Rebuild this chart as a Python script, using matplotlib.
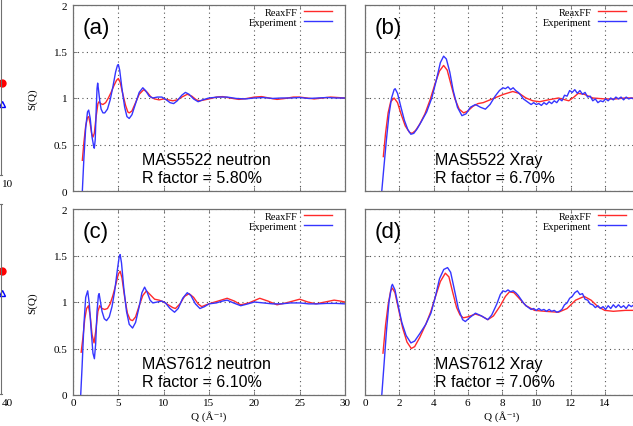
import numpy as np
import matplotlib
matplotlib.use("Agg")
import matplotlib.pyplot as plt

plt.rcParams["font.family"] = ["Liberation Serif", "DejaVu Serif"]

# ---- data ----
# (a) MAS5522 neutron
qa_exp = [1.03, 1.2, 1.4, 1.6, 1.73, 1.9, 2.1, 2.3, 2.35, 2.45, 2.55, 2.65, 2.72, 2.8, 2.95, 3.1, 3.3, 3.5,
          3.8, 4.1, 4.4, 4.7, 4.9, 5.0, 5.15, 5.4, 5.7, 5.95, 6.2, 6.5, 6.9, 7.3, 7.7, 8.0, 8.4, 8.8,
          9.3, 9.8, 10.3, 10.7, 11.1, 11.5, 12.0, 12.4, 12.8, 13.3, 13.8, 14.3, 15.0, 16.0, 17.0, 18.0,
          19.0, 20.0, 21.0, 22.0, 23.0, 24.0, 25.0, 26.0, 27.0, 28.0, 29.0, 30.0]
sa_exp = [0.0, 0.35, 0.68, 0.85, 0.87, 0.78, 0.58, 0.47, 0.46, 0.55, 0.85, 1.10, 1.16, 1.10, 0.97, 0.88, 0.84,
          0.84, 0.88, 0.98, 1.12, 1.28, 1.35, 1.36, 1.30, 1.10, 0.90, 0.80, 0.78, 0.82, 0.94, 1.06, 1.11,
          1.08, 1.02, 1.00, 1.01, 1.01, 0.98, 0.95, 0.94, 0.97, 1.03, 1.06, 1.04, 0.99, 0.96, 0.98, 1.00,
          1.01, 1.01, 0.995, 0.99, 1.00, 1.005, 0.995, 1.0, 1.0, 1.005, 0.995, 1.0, 1.005, 1.0, 1.0]
qa_rx = [1.03, 1.2, 1.4, 1.6, 1.73, 1.9, 2.05, 2.2, 2.35, 2.55, 2.75, 2.87, 3.05, 3.3, 3.6, 3.9, 4.2, 4.5,
         4.8, 5.0, 5.2, 5.5, 5.8, 6.05, 6.2, 6.5, 6.9, 7.3, 7.8, 8.2, 8.6, 9.0, 9.5, 10.0, 10.5, 11.0,
         11.5, 12.0, 12.6, 13.1, 13.6, 14.0, 14.5, 15.0, 15.8, 16.5, 17.3, 18.3, 19.2, 20.0, 20.8, 21.6,
         22.5, 23.4, 24.3, 25.0, 25.8, 26.6, 27.5, 28.4, 29.2, 30.0]
sa_rx = [0.33, 0.52, 0.70, 0.79, 0.80, 0.72, 0.62, 0.58, 0.62, 0.80, 0.94, 0.96, 0.94, 0.93, 0.95, 1.00,
         1.06, 1.13, 1.19, 1.21, 1.17, 1.04, 0.92, 0.85, 0.84, 0.86, 0.95, 1.04, 1.09, 1.06, 1.01, 0.99,
         0.98, 0.99, 0.98, 0.97, 0.98, 1.01, 1.04, 1.02, 0.98, 0.97, 0.98, 0.99, 1.01, 1.015, 1.0, 0.985,
         0.995, 1.01, 1.015, 1.0, 0.985, 0.995, 1.01, 1.01, 1.0, 0.99, 1.0, 1.01, 1.005, 1.0]

# (b) MAS5522 Xray
qb_exp = [0.98, 1.1, 1.25, 1.4, 1.55, 1.7, 1.76, 1.9, 2.1, 2.3, 2.5, 2.68, 2.85, 3.05, 3.3, 3.6, 3.9, 4.15,
          4.4, 4.59, 4.75, 4.95, 5.15, 5.4, 5.66, 5.9, 6.15, 6.45, 6.75, 7.03, 7.3, 7.6, 7.85, 8.05,
          8.2, 8.35, 8.5, 8.65, 8.8, 8.95, 9.1, 9.25, 9.4, 9.55, 9.7, 9.85, 10.0, 10.15, 10.3, 10.45,
          10.6, 10.75, 10.9, 11.05, 11.2, 11.35, 11.5, 11.65, 11.8, 11.95, 12.1, 12.25, 12.4, 12.55,
          12.7, 12.85, 13.0, 13.15, 13.3, 13.45, 13.6, 13.75, 13.9, 14.05, 14.2, 14.35, 14.5, 14.65,
          14.8, 14.95, 15.1, 15.25, 15.4, 15.55, 15.7, 16.0]
sb_exp = [0.0, 0.25, 0.55, 0.82, 1.0, 1.09, 1.10, 1.05, 0.90, 0.76, 0.66, 0.61, 0.62, 0.67, 0.75, 0.85, 1.00,
          1.18, 1.38, 1.45, 1.42, 1.28, 1.08, 0.90, 0.81, 0.83, 0.90, 0.93, 0.90, 0.88, 0.93, 1.02, 1.08,
          1.11, 1.10, 1.12, 1.09, 1.11, 1.08, 1.06, 1.03, 0.99, 0.97, 0.95, 0.93, 0.95, 0.93, 0.94, 0.92,
          0.95, 0.93, 0.96, 0.94, 0.97, 0.95, 0.99, 0.97, 1.03, 1.02, 1.08, 1.06, 1.09, 1.05, 1.08, 1.04,
          1.06, 1.01, 1.02, 0.97, 0.99, 0.95, 0.97, 0.96, 0.99, 0.97, 1.00, 0.98, 1.01, 0.99, 1.01, 0.98,
          1.01, 0.99, 1.00, 0.99, 1.0]
qb_rx = [1.07, 1.2, 1.35, 1.5, 1.7, 1.9, 2.1, 2.35, 2.6, 2.75, 2.95, 3.2, 3.5, 3.8, 4.1, 4.35, 4.59, 4.8,
         5.0, 5.25, 5.5, 5.76, 6.0, 6.3, 6.6, 6.9, 7.3, 7.7, 8.1, 8.63, 9.0, 9.4, 9.8, 10.2, 10.7, 11.3,
         11.7, 11.9, 12.2, 12.45, 12.8, 13.3, 14.0, 14.6, 15.2, 16.0]
sb_rx = [0.37, 0.62, 0.84, 0.96, 1.00, 0.95, 0.83, 0.70, 0.63, 0.62, 0.65, 0.72, 0.83, 0.98, 1.16, 1.29,
         1.35, 1.30, 1.16, 0.99, 0.88, 0.84, 0.86, 0.91, 0.94, 0.95, 0.98, 1.01, 1.04, 1.07, 1.05, 1.0,
         0.97, 0.96, 0.98, 1.00, 0.98, 0.97, 1.01, 1.05, 1.04, 1.0, 0.99, 0.99, 1.0, 1.0]

# (c) MAS7612 neutron
qc_exp = [0.85, 1.0, 1.2, 1.4, 1.62, 1.8, 2.0, 2.2, 2.36, 2.5, 2.65, 2.8, 2.88, 3.0, 3.2, 3.45, 3.7, 4.0,
          4.3, 4.6, 4.9, 5.1, 5.2, 5.35, 5.6, 5.9, 6.2, 6.57, 6.9, 7.3, 7.6, 7.9, 8.2, 8.5, 8.8, 9.3,
          9.8, 10.2, 10.7, 11.2, 11.6, 12.1, 12.6, 13.0, 13.5, 14.0, 14.5, 15.0, 15.8, 16.5, 17.0, 17.7,
          18.5, 19.3, 20.0, 21.0, 22.0, 23.0, 24.0, 25.0, 26.0, 27.0, 28.0, 29.0, 30.0]
sc_exp = [0.0, 0.30, 0.75, 1.05, 1.12, 0.98, 0.70, 0.45, 0.39, 0.55, 0.90, 1.07, 1.09, 1.02, 0.90, 0.82,
          0.80, 0.84, 0.95, 1.12, 1.35, 1.49, 1.51, 1.42, 1.15, 0.90, 0.76, 0.72, 0.78, 0.95, 1.10, 1.16,
          1.10, 1.02, 0.99, 1.00, 1.01, 0.99, 0.93, 0.89, 0.93, 1.04, 1.10, 1.07, 0.98, 0.93, 0.95, 0.98,
          0.99, 1.01, 1.02, 0.99, 0.96, 0.98, 1.0, 0.99, 0.98, 0.98, 0.99, 0.99, 0.98, 0.98, 0.985, 0.985,
          0.98]
qc_rx = [0.9, 1.1, 1.3, 1.5, 1.7, 1.9, 2.1, 2.32, 2.5, 2.75, 2.95, 3.2, 3.5, 3.8, 4.1, 4.4, 4.7, 5.0, 5.2,
         5.4, 5.7, 6.0, 6.3, 6.57, 6.9, 7.3, 7.7, 8.1, 8.5, 9.0, 9.5, 10.0, 10.5, 11.0, 11.3, 11.8, 12.3,
         12.8, 13.3, 13.8, 14.2, 14.7, 15.3, 16.0, 17.0, 17.8, 18.5, 19.4, 20.6, 21.5, 22.5, 23.5, 25.0,
         25.9, 26.8, 27.8, 28.8, 29.5, 30.0]
sc_rx = [0.46, 0.62, 0.82, 0.93, 0.96, 0.85, 0.65, 0.56, 0.68, 0.90, 0.96, 0.93, 0.92, 0.93, 0.98, 1.07,
         1.18, 1.30, 1.33, 1.26, 1.05, 0.88, 0.81, 0.80, 0.84, 0.96, 1.07, 1.12, 1.08, 1.03, 1.02, 1.00,
         0.97, 0.94, 0.93, 0.98, 1.06, 1.09, 1.05, 0.98, 0.95, 0.97, 0.99, 1.01, 1.04, 1.01, 0.97, 0.99,
         1.04, 1.01, 0.97, 0.99, 1.03, 1.0, 0.98, 1.0, 1.02, 1.01, 1.0]

# (d) MAS7612 Xray
qd_exp = [0.98, 1.1, 1.25, 1.4, 1.55, 1.6, 1.75, 1.95, 2.15, 2.4, 2.68, 2.9, 3.2, 3.55, 3.85, 4.1, 4.35,
          4.6, 4.82, 5.0, 5.2, 5.45, 5.7, 5.86, 6.1, 6.45, 6.8, 7.17, 7.4, 7.7, 7.9, 8.05, 8.2, 8.35,
          8.5, 8.65, 8.8, 8.95, 9.1, 9.25, 9.4, 9.55, 9.7, 9.85, 10.0, 10.15, 10.3, 10.45, 10.6, 10.75,
          10.9, 11.05, 11.2, 11.35, 11.5, 11.65, 11.8, 11.95, 12.1, 12.25, 12.4, 12.55, 12.7, 12.85,
          13.0, 13.15, 13.3, 13.45, 13.6, 13.75, 13.9, 14.05, 14.2, 14.35, 14.5, 14.65, 14.8, 14.95,
          15.1, 15.25, 15.4, 15.55, 15.7, 16.0]
sd_exp = [0.0, 0.30, 0.68, 1.0, 1.17, 1.19, 1.13, 0.95, 0.78, 0.64, 0.56, 0.58, 0.66, 0.76, 0.88, 1.05,
          1.25, 1.35, 1.37, 1.32, 1.15, 0.93, 0.81, 0.79, 0.83, 0.88, 0.85, 0.81, 0.86, 0.98, 1.08, 1.12,
          1.11, 1.13, 1.11, 1.12, 1.10, 1.07, 1.03, 0.99, 0.96, 0.94, 0.92, 0.93, 0.91, 0.93, 0.91, 0.92,
          0.90, 0.92, 0.90, 0.91, 0.89, 0.90, 0.92, 0.97, 0.99, 1.04, 1.06, 1.10, 1.12, 1.08, 1.09, 1.03,
          1.02, 0.98, 0.97, 0.94, 0.96, 0.93, 0.95, 0.92, 0.96, 0.93, 0.97, 0.94, 0.97, 0.94, 0.96, 0.93,
          0.97, 0.95, 0.97, 0.96]
qd_rx = [1.05, 1.2, 1.35, 1.5, 1.6, 1.75, 1.95, 2.2, 2.45, 2.7, 2.9, 3.2, 3.55, 3.85, 4.1, 4.4, 4.69, 4.9,
         5.1, 5.35, 5.55, 5.74, 6.0, 6.45, 6.8, 7.17, 7.5, 7.9, 8.2, 8.44, 8.7, 9.0, 9.4, 9.9, 10.5,
         11.3, 11.8, 12.3, 12.8, 13.2, 13.6, 14.0, 14.5, 15.2, 16.0]
sd_rx = [0.45, 0.75, 0.97, 1.12, 1.15, 1.10, 0.93, 0.72, 0.57, 0.50, 0.52, 0.62, 0.76, 0.90, 1.05, 1.22,
         1.31, 1.27, 1.12, 0.94, 0.86, 0.83, 0.84, 0.87, 0.85, 0.81, 0.85, 0.96, 1.06, 1.11, 1.10, 1.04,
         0.96, 0.91, 0.90, 0.89, 0.93, 1.02, 1.06, 1.02, 0.95, 0.91, 0.90, 0.91, 0.91]

panel_tags = ["(a)", "(b)", "(c)", "(d)"]
panel_names = ["MAS5522 neutron", "MAS5522 Xray", "MAS7612 neutron", "MAS7612 Xray"]
r_factors = ["5.80%", "6.70%", "6.10%", "7.06%"]
xray_ticklabels = ["0", "2", "4", "6", "8", "10", "12", "14", ""]

# cropped neighbour panel on the far left (only its right edge shows)
edge_red = [0.51, 0.65]
edge_blue = [0.39, 0.53]
edge_xmax = [10, 40]

RED = "#ff2a2a"
BLUE = "#3535ff"
FRAME = "#707070"

W, H = 633, 427
fig = plt.figure(figsize=(W / 100, H / 100), dpi=100)


def box(l, t, r, b):
    return [l / W, 1 - b / H, (r - l) / W, (b - t) / H]


# left remnants
for k, (t, b) in enumerate([(-5, 176), (205, 395)]):
    ax = fig.add_axes(box(-200, t, 1.5, b))
    ax.set_xlim(0, edge_xmax[k])
    ax.set_ylim(0, 1)
    ax.plot([edge_xmax[k]], [edge_red[k]], "o", color="red", ms=5, clip_on=False)
    ax.plot([edge_xmax[k]], [edge_blue[k]], "^", mfc="none", mec="blue", ms=5, clip_on=False)
    ax.set_xticks([edge_xmax[k]])
    ax.set_xticklabels([str(edge_xmax[k])], fontsize=8, ha="left")
    ax.set_yticks([])
    ax.tick_params(length=0, pad=3)
    for s in ax.spines.values():
        s.set_color(FRAME)
        s.set_linewidth(0.8)

boxes = [box(73, 6, 345, 192), box(365, 6, 639, 192), box(73, 210, 345, 396), box(365, 210, 639, 396)]
series = [(qa_exp, sa_exp, qa_rx, sa_rx), (qb_exp, sb_exp, qb_rx, sb_rx),
          (qc_exp, sc_exp, qc_rx, sc_rx), (qd_exp, sd_exp, qd_rx, sd_rx)]

for i in range(4):
    ax = fig.add_axes(boxes[i])
    qe, se, qr, sr = series[i]
    ax.plot(qr, sr, color=RED, lw=1.0, label="ReaxFF")
    ax.plot(qe, se, color=BLUE, lw=1.0, label="Experiment")
    ax.set_ylim(0, 2)
    ax.set_yticks([0, 0.5, 1, 1.5, 2])
    if i % 2 == 0:
        ax.set_xlim(0, 30)
        ax.set_xticks(np.arange(0, 31, 5))
        ax.set_yticklabels(["0", "0.5", "1", "1.5", "2"])
        ax.set_ylabel("S(Q)", fontsize=8)
        ax.yaxis.set_label_coords(-0.13, 0.5)
    else:
        ax.set_xlim(0, 16)
        ax.set_xticks(np.arange(0, 17, 2))
        ax.set_yticklabels([])
    if i < 2:
        ax.set_xticklabels([])
    else:
        if i == 3:
            ax.set_xticklabels(xray_ticklabels)
        ax.set_xlabel("Q (Å⁻¹)", fontsize=8)
        ax.xaxis.set_label_coords(0.5, -0.08)
    ax.grid(True, linestyle=(0, (1, 3)), color="#555555", lw=0.8)
    ax.tick_params(direction="in", length=3, width=0.6, color=FRAME, labelsize=8,
                   top=True, right=True, pad=4)
    ax.tick_params(axis="x", pad=2)
    for s in ax.spines.values():
        s.set_color(FRAME)
        s.set_linewidth(0.9)
    ax.text(0.035, 0.88, panel_tags[i], transform=ax.transAxes, fontsize=16,
            family="Liberation Sans", va="center", ha="left")
    ax.text(0.255, 0.12, panel_names[i] + "\nR factor = " + r_factors[i], transform=ax.transAxes,
            fontsize=11.5, family="Liberation Sans", va="center", ha="left", linespacing=1.2)
    ax.legend(loc="upper right", bbox_to_anchor=(0.952, 0.985), frameon=False, markerfirst=False,
              fontsize=7.5, handlelength=2.7, borderaxespad=0, borderpad=0, labelspacing=0.05,
              handletextpad=0.6)

fig.savefig("out.png", dpi=100)
